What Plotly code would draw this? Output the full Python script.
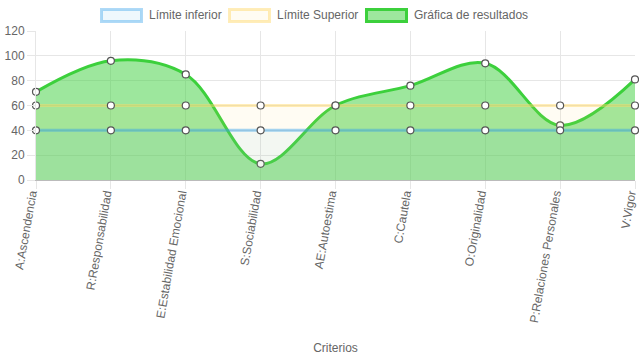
import plotly.graph_objects as go

categories = ["A:Ascendencia", "R:Responsabilidad", "E:Estabilidad Emocional", "S:Sociabilidad",
              "AE:Autoestima", "C:Cautela", "O:Originalidad", "P:Relaciones Personales", "V:Vigor"]
limite_inferior = [40, 40, 40, 40, 40, 40, 40, 40, 40]
limite_superior = [60, 60, 60, 60, 60, 60, 60, 60, 60]
resultados = [71, 96, 85, 13, 60, 76, 94, 44, 81]
y_ticks = [0, 20, 40, 60, 80, 100, 120]
series_names = ["Límite inferior", "Límite Superior", "Gráfica de resultados"]

W, H = 639, 360
ML, MR, MT, MB = 36, 4, 31, 180
PW, PH = W - ML - MR, H - MT - MB

font_family = "Liberation Sans, Arial, sans-serif"
marker_style = dict(size=7, color="white", line=dict(color="#555555", width=1.2))

styles = {
    "Límite inferior": dict(line="rgba(54,162,235,0.45)", fill="rgba(54,162,235,0.06)",
                            lbox="rgba(54,162,235,0.4)", fbox="rgba(54,162,235,0.08)"),
    "Límite Superior": dict(line="rgba(255,215,100,0.45)", fill="rgba(255,215,100,0.08)",
                            lbox="rgba(255,215,100,0.45)", fbox="rgba(255,215,100,0.08)"),
    "Gráfica de resultados": dict(line="rgb(60,208,60)", fill="rgba(60,208,60,0.5)",
                                  lbox="rgb(60,208,60)", fbox="rgba(60,208,60,0.5)"),
}

fig = go.Figure()
fig.add_trace(go.Scatter(
    x=categories, y=resultados, name=series_names[2], mode="lines+markers",
    line=dict(color=styles[series_names[2]]["line"], width=3, shape="spline", smoothing=1.0),
    fill="tozeroy", fillcolor=styles[series_names[2]]["fill"], marker=marker_style, cliponaxis=False,
))
fig.add_trace(go.Scatter(
    x=categories, y=limite_superior, name=series_names[1], mode="lines+markers",
    line=dict(color=styles[series_names[1]]["line"], width=3),
    fill="tozeroy", fillcolor=styles[series_names[1]]["fill"], marker=marker_style, cliponaxis=False,
))
fig.add_trace(go.Scatter(
    x=categories, y=limite_inferior, name=series_names[0], mode="lines+markers",
    line=dict(color=styles[series_names[0]]["line"], width=3),
    fill="tozeroy", fillcolor=styles[series_names[0]]["fill"], marker=marker_style, cliponaxis=False,
))

# Chart.js-style legend boxes (layout decoration), positions in pixels
def px_x(px):
    return (px - ML) / PW

def px_y(py):
    return (H - MB - py) / PH

legend_box_left = [101.5, 229.5, 366.5]
shapes, annotations = [], []
for name, bx in zip(series_names, legend_box_left):
    st = styles[name]
    shapes.append(dict(type="rect", xref="paper", yref="paper",
                       x0=px_x(bx), x1=px_x(bx + 40), y0=px_y(21.5), y1=px_y(9.5),
                       line=dict(color=st["lbox"], width=3), fillcolor=st["fbox"], layer="above"))
    annotations.append(dict(text=name, xref="paper", yref="paper", x=px_x(bx + 45.5), y=px_y(15.5),
                            xanchor="left", yanchor="middle", showarrow=False,
                            font=dict(size=12, color="#666666", family=font_family)))

fig.update_layout(
    width=W, height=H,
    margin=dict(l=ML, r=MR, t=MT, b=MB, autoexpand=False),
    paper_bgcolor="white", plot_bgcolor="white",
    font=dict(family=font_family, size=12, color="#666666"),
    showlegend=False,
    shapes=shapes, annotations=annotations,
)
fig.update_xaxes(
    type="category", range=[0, 8], tickangle=-80, automargin=False,
    showgrid=True, gridcolor="#e6e6e6", gridwidth=1,
    ticks="outside", ticklen=8, tickcolor="#e6e6e6", ticklabelstandoff=-7, ticklabelshift=-5,
    showline=True, linecolor="#bbbbbb", linewidth=1,
    tickfont=dict(size=12, color="#666666"),
    title=dict(text="Criterios", font=dict(size=12, color="#666666"), standoff=20),
)
fig.update_yaxes(
    range=[0, 120], tickvals=y_ticks, automargin=False,
    showgrid=True, gridcolor="#e6e6e6", gridwidth=1,
    ticks="outside", ticklen=8, tickcolor="#e6e6e6",
    showline=True, linecolor="#e6e6e6", zeroline=False,
    tickfont=dict(size=12, color="#666666"),
)
fig.write_html(
    "out.html",
    config={"displayModeBar": False},
    post_script="document.body.style.margin='0';document.body.style.overflow='hidden';",
)
